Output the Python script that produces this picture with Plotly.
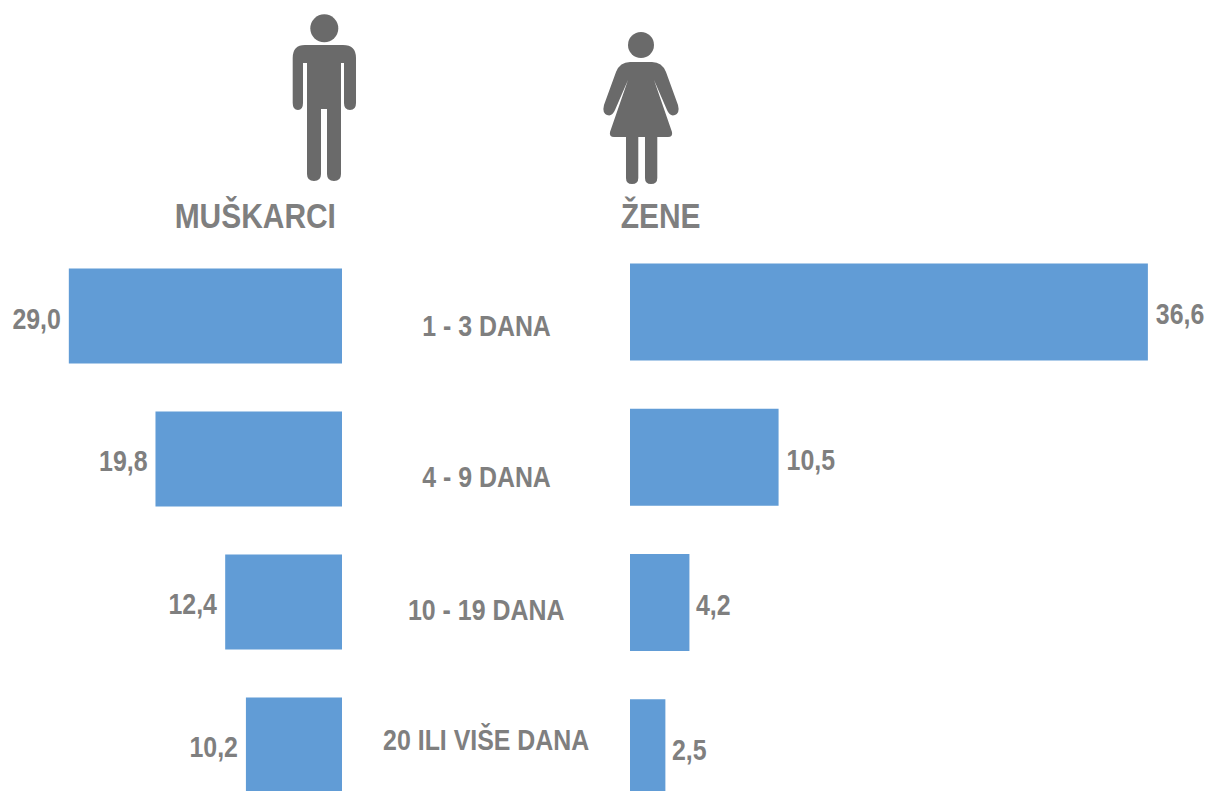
import re
import plotly.graph_objects as go

categories = ["1 - 3 DANA", "4 - 9 DANA", "10 - 19 DANA", "20 ILI VIŠE DANA"]
muskarci = [29.0, 19.8, 12.4, 10.2]
zene = [36.6, 10.5, 4.2, 2.5]
group_titles = ["MUŠKARCI", "ŽENE"]

W, H = 1207, 791
BAR = "#619cd6"
TXT = "#7f7f7f"
ICON = "#6a6a6a"
FONT = "Liberation Sans, Arial, sans-serif"


def px(x):
    return x / W


def py(y):
    return 1 - y / H


def path_px(d):
    """Convert an SVG path given in page pixels to paper coordinates."""
    def conv(m):
        return f"{px(float(m.group(1))):.5f},{py(float(m.group(2))):.5f}"
    return re.sub(r"(-?[\d.]+),(-?[\d.]+)", conv, d)


def labels(vals):
    return [f"{v:.1f}".replace(".", ",") for v in vals]


fig = go.Figure()
fig.add_trace(go.Bar(
    y=categories, x=muskarci, orientation="h", width=0.664,
    marker=dict(color=BAR, line=dict(width=0)),
    text=labels(muskarci), textposition="outside", cliponaxis=False,
    textfont=dict(family=FONT, size=30, color=TXT, weight="bold"),
    xaxis="x", yaxis="y", hoverinfo="skip", showlegend=False,
))
fig.add_trace(go.Bar(
    y=categories, x=zene, orientation="h", width=0.668,
    marker=dict(color=BAR, line=dict(width=0)),
    text=labels(zene), textposition="outside", cliponaxis=False,
    textfont=dict(family=FONT, size=30, color=TXT, weight="bold"),
    xaxis="x2", yaxis="y2", hoverinfo="skip", showlegend=False,
))

hidden = dict(visible=False, showgrid=False, zeroline=False, fixedrange=True)
man_path = ("M305,45 L343,45 Q356,45 356,58 L356,103 Q356,110 350,110 Q344,110 344,103 L344,63 L341,63 "
            "L341,174 Q341,181 334,181 Q327,181 327,174 L327,109 L321,109 L321,174 Q321,181 314,181 "
            "Q307,181 307,174 L307,63 L303,63 L303,103 Q303,110 298,110 Q292.7,110 292.7,103 L292.7,58 "
            "Q292.7,45 305,45 Z")
woman_path = ("M630,62 L652,62 Q662,62 666,72 L678,105 Q680,113 675,115 Q670,117 667,110 L654,80 L672,132 "
              "Q673,137 668,137 L657.3,137 L657.3,178 Q657.3,184 651,184 Q645,184 645,178 L645,137 L638.3,137 "
              "L638.3,178 Q638.3,184 632,184 Q626,184 626,178 L626,137 L614,137 Q609,137 610,132 L628,80 "
              "L615,110 Q612,117 607,115 Q602,113 604,105 L616,72 Q620,62 630,62 Z")
shapes = [
    dict(type="path", xref="paper", yref="paper", path=path_px(man_path), fillcolor=ICON, line=dict(width=0)),
    dict(type="path", xref="paper", yref="paper", path=path_px(woman_path), fillcolor=ICON, line=dict(width=0)),
    dict(type="circle", xref="paper", yref="paper", x0=px(310.3), x1=px(338.3), y0=py(42.3), y1=py(14.3),
         fillcolor=ICON, line=dict(width=0)),
    dict(type="circle", xref="paper", yref="paper", x0=px(628), x1=px(654), y0=py(58), y1=py(32),
         fillcolor=ICON, line=dict(width=0)),
]

annotations = []
for title, x, y in zip(group_titles, [255, 660], [215, 215]):
    annotations.append(dict(text=title, x=px(x), y=py(y), xref="paper", yref="paper", showarrow=False,
                            xanchor="center", yanchor="middle",
                            font=dict(family=FONT, size=35, color=TXT, weight="bold")))
for cat, y in zip(categories, [325, 476, 609, 739]):
    annotations.append(dict(text=cat, x=px(486), y=py(y), xref="paper", yref="paper", showarrow=False,
                            xanchor="center", yanchor="middle",
                            font=dict(family=FONT, size=30, color=TXT, weight="bold")))

fig.update_layout(
    width=W, height=H, autosize=False,
    margin=dict(l=0, r=0, t=0, b=0),
    paper_bgcolor="white", plot_bgcolor="white",
    barmode="overlay",
    xaxis=dict(domain=[0, px(342)], range=[342 / 9.42, 0], anchor="y", **hidden),
    yaxis=dict(domain=[0, 1], range=[3.322, -2.21], type="category", anchor="x", **hidden),
    xaxis2=dict(domain=[px(630), 1], range=[0, 577 / 14.15], anchor="y2", **hidden),
    yaxis2=dict(domain=[0, 1], range=[3.297, -2.147], type="category", anchor="x2", **hidden),
    shapes=shapes, annotations=annotations,
)

# The reference text is a condensed bold face; squeeze the real text horizontally.
post = """
document.body.style.margin='0';document.body.style.overflow='hidden';
document.querySelectorAll('.annotation-text, .bartext').forEach(function(t){
  var big = parseFloat(t.style.fontSize) > 32;
  t.setAttribute('textLength', t.getComputedTextLength() * (big ? 0.855 : 0.83));
  t.setAttribute('lengthAdjust', 'spacingAndGlyphs');
  if (t.classList.contains('bartext')) { t.setAttribute('dy', '2'); }
});
"""
fig.write_html("out.html", config={"displayModeBar": False}, post_script=post)
